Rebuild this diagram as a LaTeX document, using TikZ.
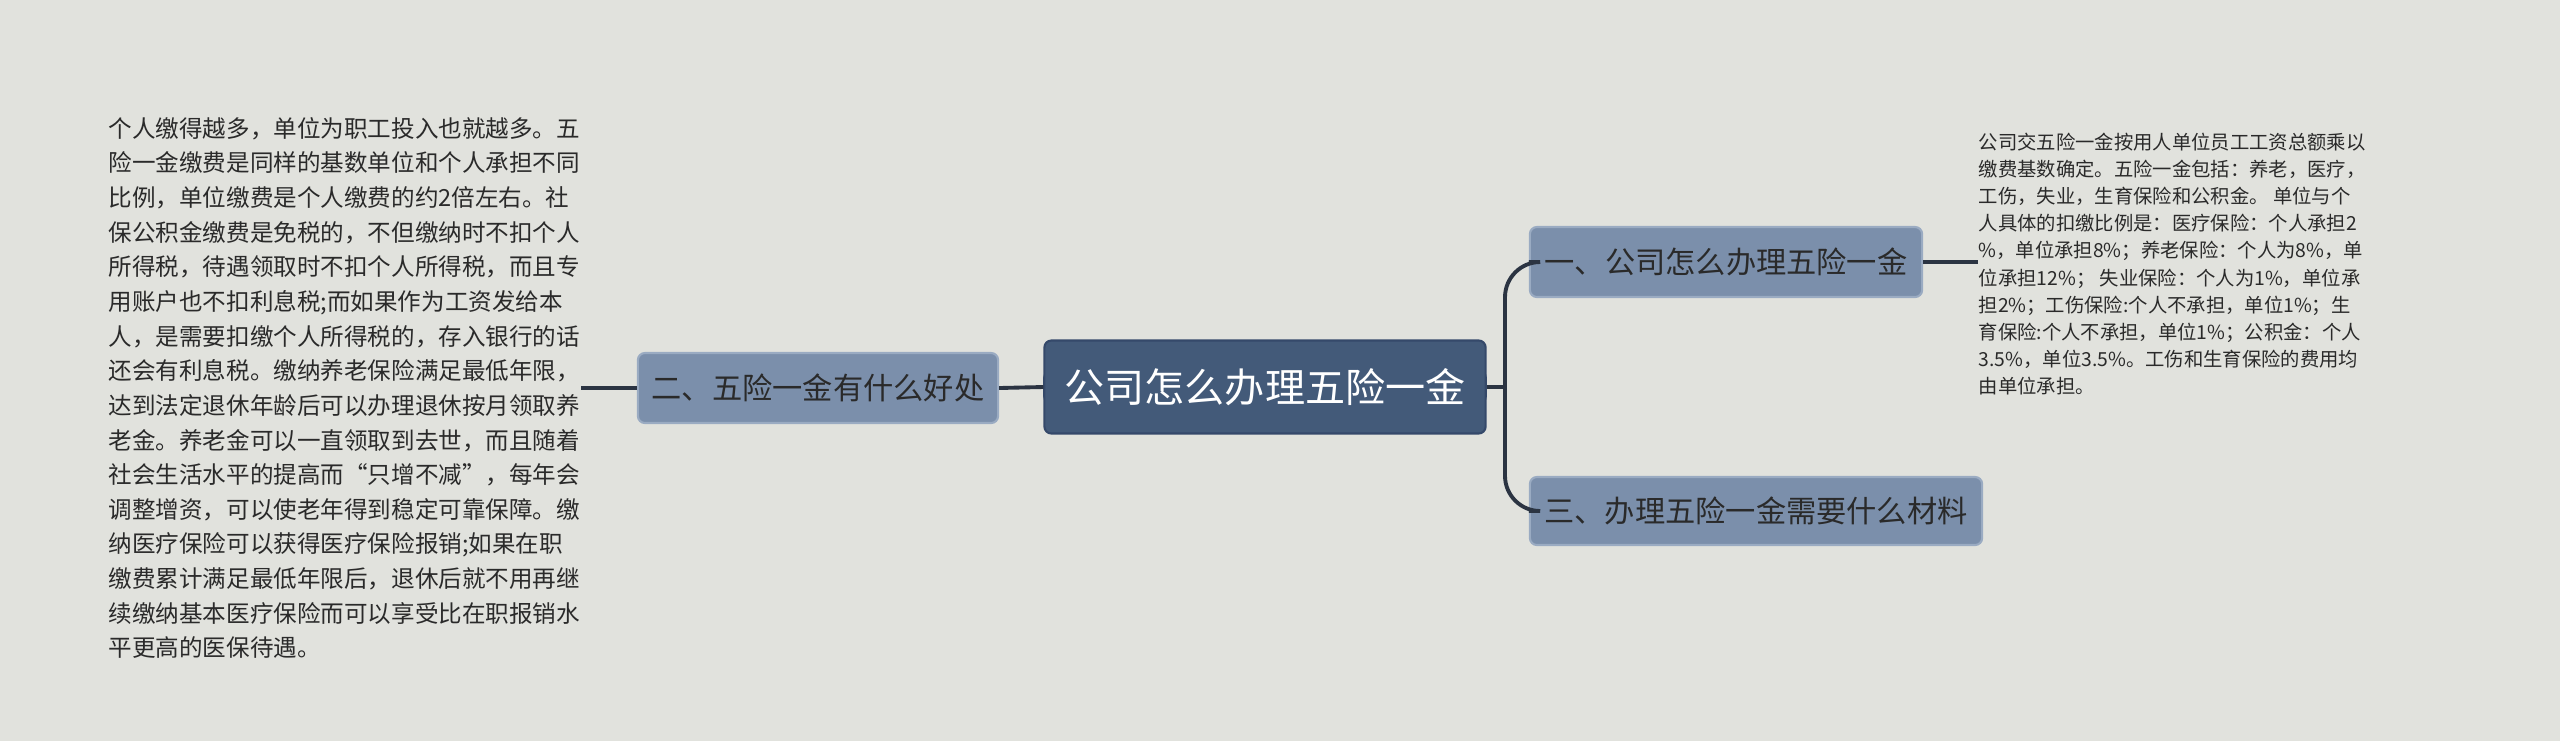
\documentclass[tikz,border=0pt]{standalone}
\usepackage{fontspec}
\setmainfont{Noto Sans CJK SC}
\begin{document}
\begin{tikzpicture}[x=0.01cm,y=-0.01cm,
  rootbox/.style={fill=rootc,draw=rootb,line width=0.6pt,rounded corners=2pt,text=white,font=\fontsize{11.4pt}{13pt}\selectfont,minimum width=441\pgflinewidth,inner sep=0pt},
  subbox/.style={fill=subc,draw=subb,line width=0.6pt,rounded corners=2pt,text=txt,font=\fontsize{8.6pt}{10pt}\selectfont,inner sep=0pt},
  conn/.style={draw=linec,line width=1.1pt},
  leaf/.style={text=txt,align=left,inner sep=0pt}]
\definecolor{bg}{HTML}{E1E2DD}
\definecolor{rootc}{HTML}{435A79}
\definecolor{rootb}{HTML}{35496A}
\definecolor{subc}{HTML}{7B8FAB}
\definecolor{subb}{HTML}{9AABC2}
\definecolor{linec}{HTML}{2B3442}
\definecolor{txt}{HTML}{2A2A2A}
\fill[bg] (0,0) rectangle (2560,741);
\useasboundingbox (0,0) rectangle (2560,741);
\node[rootbox,minimum width=12.55cm*0.3516,minimum height=0.93cm*0.3516] (root) at (1265,387) {};
\node[rootbox,fill=rootc,draw=rootb,minimum width=4.41cm,minimum height=0.93cm] (rootn) at (1265,387) {公司怎么办理五险一金};
\node[subbox,minimum width=3.60cm,minimum height=0.70cm] (left) at (818,388) {二、五险一金有什么好处};
\node[subbox,minimum width=3.92cm,minimum height=0.70cm] (rt) at (1726,262) {一、公司怎么办理五险一金};
\node[subbox,minimum width=4.52cm,minimum height=0.68cm] (rb) at (1756,511) {三、办理五险一金需要什么材料};
\node[leaf,anchor=west,font=\fontsize{6.7pt}{9.85pt}\selectfont] (lt) at (108,388) {个人缴得越多，单位为职工投入也就越多。五\\险一金缴费是同样的基数单位和个人承担不同\\比例，单位缴费是个人缴费的约2倍左右。社\\保公积金缴费是免税的，不但缴纳时不扣个人\\所得税，待遇领取时不扣个人所得税，而且专\\用账户也不扣利息税;而如果作为工资发给本\\人，是需要扣缴个人所得税的，存入银行的话\\还会有利息税。缴纳养老保险满足最低年限，\\达到法定退休年龄后可以办理退休按月领取养\\老金。养老金可以一直领取到去世，而且随着\\社会生活水平的提高而“只增不减”，每年会\\调整增资，可以使老年得到稳定可靠保障。缴\\纳医疗保险可以获得医疗保险报销;如果在职\\缴费累计满足最低年限后，退休后就不用再继\\续缴纳基本医疗保险而可以享受比在职报销水\\平更高的医保待遇。};
\node[leaf,anchor=west,font=\fontsize{5.5pt}{7.72pt}\selectfont] (rtt) at (1978,264) {公司交五险一金按用人单位员工工资总额乘以\\缴费基数确定。五险一金包括：养老，医疗，\\工伤，失业，生育保险和公积金。 单位与个\\人具体的扣缴比例是：医疗保险：个人承担2\\\%，单位承担8\%；养老保险：个人为8\%，单\\位承担12\%；\ 失业保险：个人为1\%，单位承\\担2\%；工伤保险:个人不承担，单位1\%；生\\育保险:个人不承担，单位1\%；公积金：个人\\3.5\%，单位3.5\%。工伤和生育保险的费用均\\由单位承担。};
\coordinate (fork) at (1505,387);
\draw[conn] (rootn.west) -- (left.east);
\draw[conn] (left.west) -- (lt.east |- left.west);
\draw[conn] (rootn.east) -- (fork);
\draw[conn,rounded corners=10pt] (fork) |- (rt.west);
\draw[conn,rounded corners=10pt] (fork) |- (rb.west);
\draw[conn] (rt.east) -- (rtt.west |- rt.east);
\end{tikzpicture}
\end{document}
